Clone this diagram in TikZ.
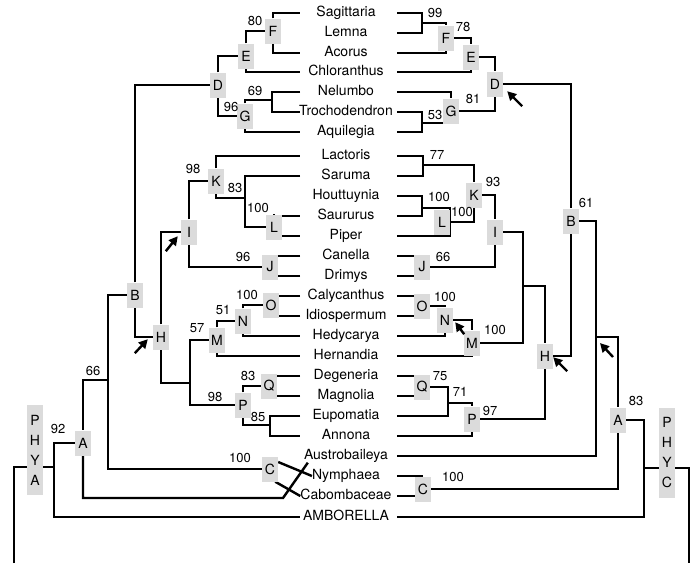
\documentclass[tikz,border=0pt]{standalone}
\usepackage{fontspec}
\setmainfont{TeX Gyre Heros}
\usetikzlibrary{arrows.meta}
\pgfdeclarelayer{paper}
\pgfdeclarelayer{wires}
\pgfsetlayers{paper,wires,main}
\newcommand\taxafont{\fontsize{14}{16}\selectfont}
\newcommand\bootfont{\fontsize{13}{15}\selectfont}
\tikzset{
  taxon/.style={font=\taxafont, inner sep=0pt, text height=10pt, text depth=3pt},
  clade/.style={fill=black!14, font=\taxafont, inner sep=0pt, minimum width=16pt, minimum height=25pt},
  phy/.style={clade, align=center, font=\fontsize{14}{20}\selectfont, minimum height=90pt},
  boot/.style={font=\bootfont, inner sep=0pt},
  pointer/.style={line width=2.4pt, -{Triangle[length=9pt,width=9pt]}}
}
\begin{document}
\begin{tikzpicture}[x=1pt,y=-1pt]
\useasboundingbox (0,0) rectangle (691,563);
\begin{pgfonlayer}{paper}
\fill[white] (0,0) rectangle (691,563);
\end{pgfonlayer}

\foreach \nm/\y in {Sagittaria/13, Lemna/33, Acorus/53, Chloranthus/72, Nelumbo/92,
    Trochodendron/112, Aquilegia/132, Lactoris/156, Saruma/176, Houttuynia/196,
    Saururus/216, Piper/236, Canella/256, Drimys/276, Calycanthus/296,
    Idiospermum/316, Hedycarya/336, Hernandia/356, Degeneria/376, Magnolia/396,
    Eupomatia/416, Annona/436, Austrobaileya/456, Nymphaea/476, Cabombaceae/496,
    AMBORELLA/517} {
  \node[taxon] (\nm) at (346,\y) {\nm};
  \coordinate (\nm-l) at (300,\y);
  \coordinate (\nm-r) at (397,\y);
}

\foreach \cl/\c/\x/\y in {lA/A/83/443, lB/B/135/295, lC/C/270/469, lD/D/218/85,
    lE/E/246/56, lF/F/273/31, lG/G/245/116, lH/H/161/337, lI/I/189/232,
    lJ/J/270/267, lK/K/216/181, lL/L/274/227, lM/M/217/340, lN/N/243/321,
    lO/O/271/305, lP/P/243/405, lQ/Q/269/386,
    rA/A/618/420, rB/B/571/221, rC/C/423/489, rD/D/495/84, rE/E/471/57,
    rF/F/446/38, rG/G/451/111, rH/H/545/356, rI/I/495/232, rJ/J/422/267,
    rK/K/474/195, rL/L/442/222, rM/M/472/343, rN/N/445/320, rO/O/422/306,
    rP/P/472/419, rQ/Q/422/387}
  \node[clade] (\cl) at (\x,\y) {\c};
\node[phy] (lPHYA) at (35,450) {P\\H\\Y\\A};
\node[phy] (rPHYC) at (667,453) {P\\H\\Y\\C};

\foreach \v/\x/\y [count=\i] in {80/255/21, 96/231/107, 69/255/91, 98/193/169,
    83/235/188, 100/258/208, 96/243/257, 57/197/328, 51/223/310, 100/247/295,
    98/215/397, 83/248/376, 85/258/417, 66/93/371, 92/58/429, 100/240/458,
    99/435/13, 78/463/27, 81/473/99, 53/435/115, 77/437/155, 93/493/182,
    100/439/197, 100/462/212, 66/443/257, 100/445/297, 100/495/330, 75/440/376,
    71/460/392, 97/490/411, 61/586/203, 83/636/401, 100/453/477}
  \node[boot] (bs\i) at (\x,\y) {\v};

\coordinate (lNT) at (272,100);
\coordinate (lSL) at (245,198);
\coordinate (lMP) at (190,383);
\coordinate (lEA) at (270,425);
\coordinate (l66) at (108,380);
\coordinate (lAus) at (283,498);
\coordinate (lroot) at (54,467);
\coordinate (lbase) at (14,563);
\coordinate (rSL) at (422,23);
\coordinate (rTA) at (422,123);
\coordinate (rLS) at (423,165);
\coordinate (rHS) at (422,208);
\coordinate (rHSP) at (450,222);
\coordinate (rIM) at (523,286);
\coordinate (rQE) at (448,403);
\coordinate (rBA) at (596,337);
\coordinate (rroot) at (644,468);
\coordinate (rbase) at (689,563);

\begin{pgfonlayer}{wires}
\begin{scope}[line width=2.4pt]
\draw (lF) |- (Sagittaria-l);
\draw (lF) |- (Acorus-l);
\draw (lE) |- (lF);
\draw (lE) |- (Chloranthus-l);
\draw (lD) |- (lE);
\draw (lD) |- (lG);
\draw (lG) |- (lNT);
\draw (Nelumbo-l) -| (lNT) |- (Trochodendron-l);
\draw (lG) |- (Aquilegia-l);
\draw (lB) |- (lD);
\draw (lB) |- (lH);
\draw (lH) |- (lI);
\draw (lI) |- (lK);
\draw (lK) |- (Lactoris-l);
\draw (lK) |- (lSL);
\draw (Saruma-l) -| (lSL) |- (lL);
\draw (lL) |- (Saururus-l);
\draw (lL) |- (Piper-l);
\draw (lI) |- (lJ);
\draw (Canella-l) -- (Canella-l -| lJ);
\draw (Drimys-l) -- (Drimys-l -| lJ);
\draw (lH) |- (lMP);
\draw (lMP) |- (lM);
\draw (lMP) |- (lP);
\draw (lM) |- (lN);
\draw (lN) |- (lO);
\draw (Calycanthus-l) -- (Calycanthus-l -| lO);
\draw (Idiospermum-l) -- (Idiospermum-l -| lO);
\draw (lN) |- (Hedycarya-l);
\draw (lM) |- (Hernandia-l);
\draw (lP) |- (lQ);
\draw (Degeneria-l) -- (Degeneria-l -| lQ);
\draw (Magnolia-l) -- (Magnolia-l -| lQ);
\draw (lP) |- (lEA);
\draw (Eupomatia-l) -| (lEA) |- (Annona-l);
\draw (lB) -| (l66);
\draw (l66) |- (lC);
\draw (l66) -| (lA);
\draw (lA) |- (lAus) -- ([xshift=4pt]Austrobaileya.south west);
\draw ([yshift=7pt]lC.east) -- (Nymphaea.west);
\draw ([xshift=-3pt]lC.south east) -- (Cabombaceae.west);
\draw (lroot) |- (lA);
\draw (lroot) |- (AMBORELLA-l);
\draw (lbase) |- (lroot);

\draw (Sagittaria-r) -| (rSL) |- (Lemna-r);
\draw (rSL) -| (rF);
\draw (Acorus-r) -| (rF);
\draw (rF) -| (rE);
\draw (Chloranthus-r) -| (rE);
\draw (rE) -| (rD);
\draw (Nelumbo-r) -| (rG);
\draw (Trochodendron-r) -| (rTA) |- (Aquilegia-r);
\draw (rTA) -- (rTA -| rG);
\draw (rG) -| (rD);
\draw (rD) -| (rB);
\draw (Lactoris-r) -| (rLS) |- (Saruma-r);
\draw (rLS) -| (rK);
\draw (Houttuynia-r) -| (rHS) |- (Saururus-r);
\draw (rHS) -| (rHSP) |- (Piper-r);
\draw (rHSP) -| (rK);
\draw (rK) -| (rI);
\draw (rI) |- (rJ);
\draw (Canella-r) -- (Canella-r -| rJ);
\draw (Drimys-r) -- (Drimys-r -| rJ);
\draw (rI) -| (rIM);
\draw (rIM) |- (rM);
\draw (rIM) -| (rH);
\draw (Calycanthus-r) -- (Calycanthus-r -| rO);
\draw (Idiospermum-r) -- (Idiospermum-r -| rO);
\draw (rO) -| (rN);
\draw (rN) -| (rM);
\draw (Hedycarya-r) -| (rN);
\draw (Hernandia-r) -| (rM);
\draw (Degeneria-r) -- (Degeneria-r -| rQ);
\draw (Magnolia-r) -- (Magnolia-r -| rQ);
\draw (rQ) -| (rQE);
\draw (Eupomatia-r) -| (rQE);
\draw (rQE) -| (rP);
\draw (Annona-r) -| (rP);
\draw (rP) -| (rH);
\draw (rH) -| (rB);
\draw (rB) -| (rBA);
\draw (rBA) |- (Austrobaileya-r);
\draw (rBA) -| (rA);
\draw (rA) |- (rC);
\draw (Nymphaea-r) -- (Nymphaea-r -| rC);
\draw (Cabombaceae-r) -- (Cabombaceae-r -| rC);
\draw (rA) -| (rroot);
\draw (rroot) |- (AMBORELLA-r);
\draw (rroot) -| (rbase);
\end{scope}
\end{pgfonlayer}

\draw[pointer] ([xshift=-18pt,yshift=-3.5pt]lH.south west) -- ([xshift=-5pt,yshift=10.5pt]lH.south west);
\draw[pointer] ([xshift=-15pt,yshift=-6.5pt]lI.south west) -- ([xshift=-3pt,yshift=8.5pt]lI.south west);
\draw[pointer] ([xshift=19pt,yshift=-9.5pt]rD.south east) -- ([xshift=4pt,yshift=5.5pt]rD.south east);
\draw[pointer] ([xshift=11pt,yshift=-1.5pt]rN.south east) -- ([xshift=2pt,yshift=10.5pt]rN.south east);
\draw[pointer] ([xshift=14pt,yshift=-2.5pt]rH.south east) -- ([xshift=0pt,yshift=11.5pt]rH.south east);
\draw[pointer] ([xshift=17pt,yshift=-20pt]rBA) -- ([xshift=4pt,yshift=-6pt]rBA);
\end{tikzpicture}
\end{document}
